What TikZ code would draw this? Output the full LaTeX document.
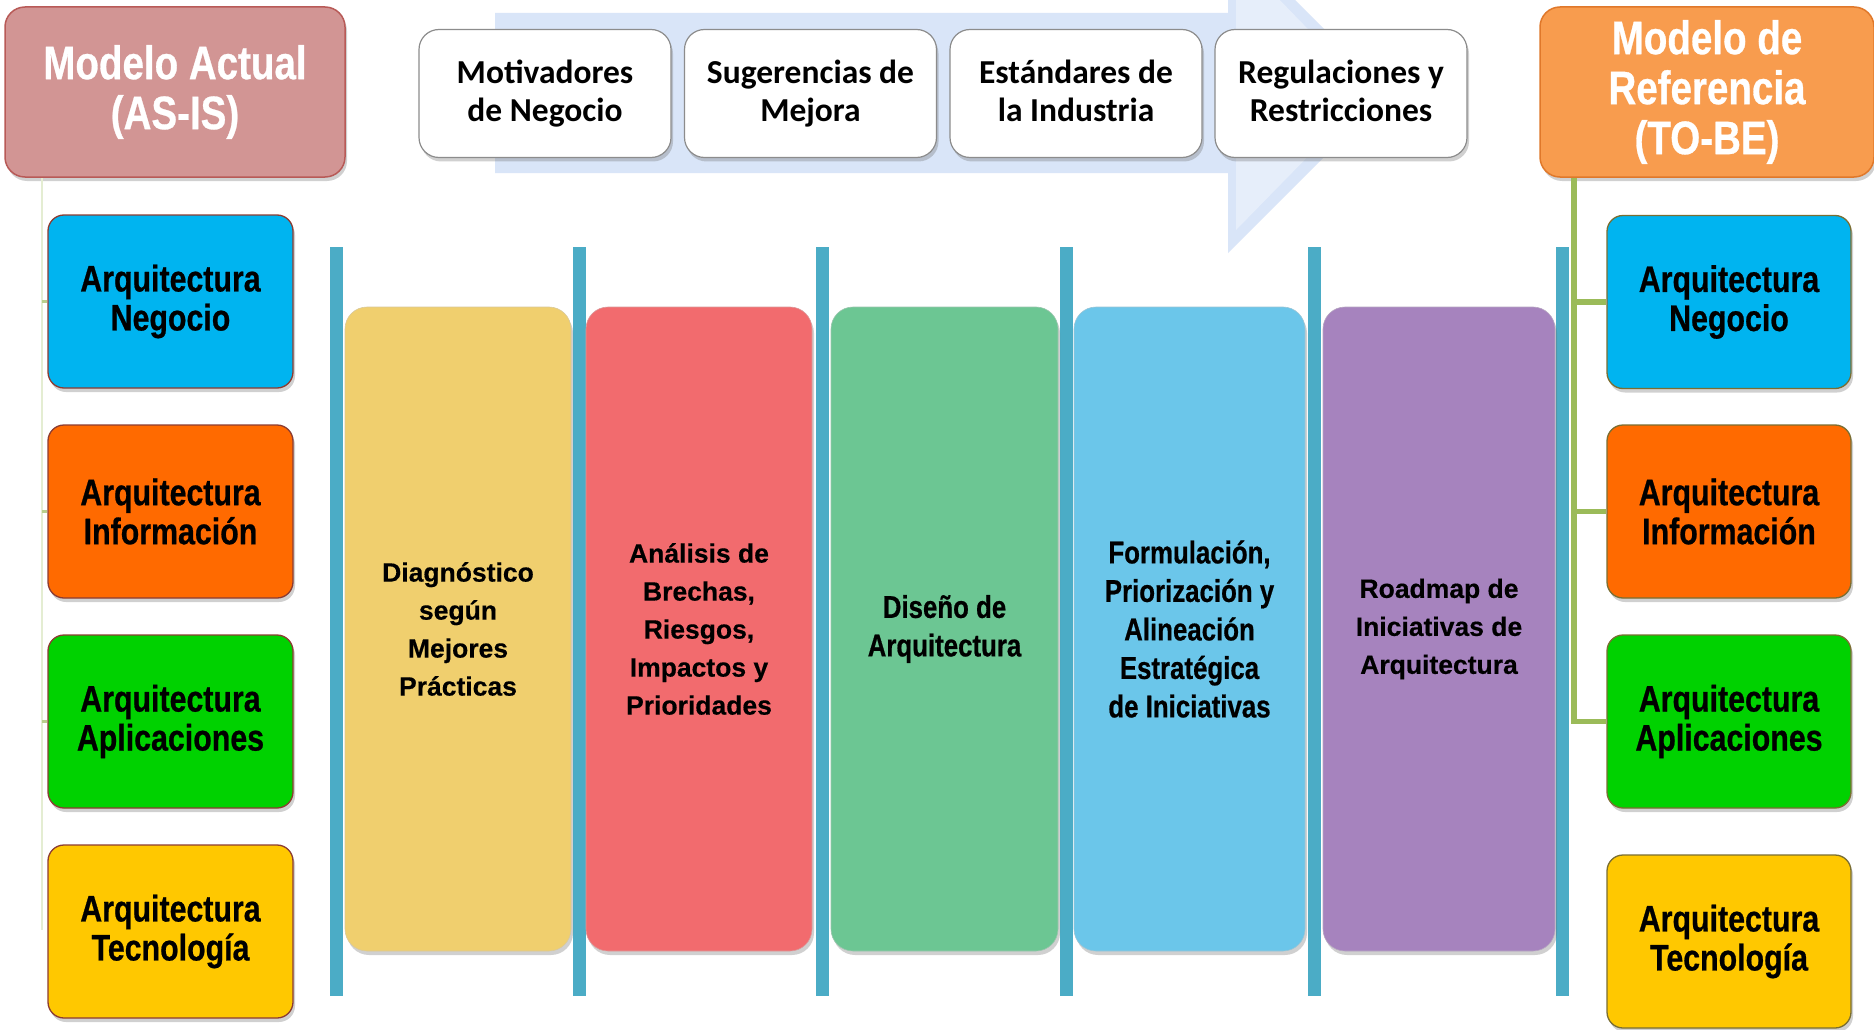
\documentclass[tikz,border=0pt]{standalone}
\usepackage{fontspec}
\setmainfont{Liberation Sans}
\newfontfamily\carlito{Carlito}
\newfontfamily\narrowf[FakeStretch=0.82,FakeBold=0.6]{Liberation Sans}
\newfontfamily\arialf[FakeBold=0.4]{Liberation Sans}
\usetikzlibrary{shadows}
\definecolor{barblue}{HTML}{4BACC6}
\definecolor{arrowblue}{HTML}{D9E5F8}
\definecolor{negocio}{HTML}{00B4F0}
\definecolor{informacion}{HTML}{FF6A00}
\definecolor{aplicaciones}{HTML}{00D200}
\definecolor{tecnologia}{HTML}{FFC800}
\definecolor{asis}{HTML}{D29594}
\definecolor{asisedge}{HTML}{B85A57}
\definecolor{tobe}{HTML}{F89C4E}
\definecolor{tobeedge}{HTML}{E0782A}
\definecolor{phyellow}{HTML}{F0CF6E}
\definecolor{phred}{HTML}{F26B6E}
\definecolor{phgreen}{HTML}{6CC693}
\definecolor{phblue}{HTML}{6BC6EA}
\definecolor{phpurple}{HTML}{A683BE}
\definecolor{leftedge}{HTML}{8C3C32}
\definecolor{rightedge}{HTML}{7A6E32}
\definecolor{treegreen}{HTML}{9BBB59}
\definecolor{paletree}{HTML}{E4EDD2}
\begin{document}
\begin{tikzpicture}[x=1pt,y=-1pt,
  softshadow/.style={drop shadow={shadow xshift=2pt,shadow yshift=-4pt,opacity=0.3,fill=black!60}},
  topbox/.style={draw=black!45,line width=1.2pt,fill=white,rounded corners=20pt,
    minimum width=252pt,minimum height=128pt,align=center,softshadow,
    execute at begin node={\vphantom{Á}},execute at end node={\vphantom{g}},
    font=\carlito\bfseries\fontsize{33.5}{38}\selectfont},
  bar/.style={fill=barblue,draw=none,minimum width=13pt,minimum height=749pt,inner sep=0pt},
  phase/.style={rounded corners=22pt,minimum height=644pt,inner sep=0pt,align=center,
    draw=#1!80!black!60,line width=0.6pt,fill=#1,softshadow},
  phwide/.style={font=\arialf\bfseries\fontsize{26.5}{38}\selectfont},
  phnarrow/.style={font=\narrowf\bfseries\fontsize{31.5}{38.5}\selectfont},
  archleft/.style={rounded corners=16pt,minimum width=245pt,minimum height=173pt,
    align=center,draw=leftedge,line width=1.3pt,fill=#1,softshadow,
    font=\narrowf\bfseries\fontsize{37}{39}\selectfont},
  archright/.style={rounded corners=16pt,minimum width=244pt,minimum height=173pt,
    align=center,draw=rightedge,line width=1.3pt,fill=#1,softshadow,
    font=\narrowf\bfseries\fontsize{37}{39}\selectfont},
  titlebox/.style={rounded corners=20pt,align=center,text=white,line width=1.5pt,softshadow,
    font=\narrowf\bfseries\fontsize{47}{50}\selectfont},
  lefttree/.style={draw=paletree,line width=1.5pt},
  leftstub/.style={draw=treegreen!70,line width=3pt},
  righttree/.style={draw=treegreen,line width=5.5pt}
]
\useasboundingbox (0,0) rectangle (1874,1030);
\fill[white] (0,0) rectangle (1874,1030);

% big background arrow
\begin{scope}
\clip (0,0) rectangle (1874,1030);
\fill[arrowblue] (495,13) -- (1228,13) -- (1228,-67) -- (1388,93) -- (1228,253)
  -- (1228,173) -- (495,173) -- cycle;
\fill[white,opacity=0.35] (1236,20) -- (1236,-45) -- (1370,93) -- (1236,230) -- (1236,166) -- cycle;
\end{scope}

% top boxes
\node[topbox] (t1) at (545,93.5) {Motivadores\\de Negocio};
\node[topbox] (t2) at (810.5,93.5) {Sugerencias de\\Mejora};
\node[topbox] (t3) at (1076,93.5) {Estándares de\\la Industria};
\node[topbox] (t4) at (1341,93.5) {Regulaciones y\\Restricciones};

% vertical separators
\node[bar] (b1) at (336.5,621.5) {};
\node[bar] (b2) at (579,621.5) {};
\node[bar] (b3) at (822,621.5) {};
\node[bar] (b4) at (1066.5,621.5) {};
\node[bar] (b5) at (1314,621.5) {};
\node[bar] (b6) at (1562.5,621.5) {};

% phases
\node[phase=phyellow,phwide,minimum width=226pt] (p1) at (458,629)
  {Diagnóstico\\según\\Mejores\\Prácticas};
\node[phase=phred,phwide,minimum width=226pt] (p2) at (699,629)
  {Análisis de\\Brechas,\\Riesgos,\\Impactos y\\Prioridades};
\node[phase=phgreen,phnarrow,minimum width=227pt] (p3) at (944.5,629)
  {Diseño de\\Arquitectura};
\node[phase=phblue,phnarrow,minimum width=231pt] (p4) at (1189.5,629)
  {Formulación,\\Priorización y\\Alineación\\Estratégica\\de Iniciativas};
\node[phase=phpurple,phwide,minimum width=232pt] (p5) at (1439,629)
  {Roadmap de\\Iniciativas de\\Arquitectura};

% title boxes
\node[titlebox,fill=asis,draw=asisedge,minimum width=340pt,minimum height=170pt] (asis) at (175,92)
  {Modelo Actual\\(AS-IS)};
\node[titlebox,fill=tobe,draw=tobeedge,minimum width=334pt,minimum height=170pt] (tobe) at (1707,92)
  {Modelo de\\Referencia\\(TO-BE)};

% left architecture boxes
\node[archleft=negocio] (lneg) at (170.5,301.5) {Arquitectura\\Negocio};
\node[archleft=informacion] (linf) at (170.5,511.5) {Arquitectura\\Información};
\node[archleft=aplicaciones] (lapl) at (170.5,721.5) {Arquitectura\\Aplicaciones};
\node[archleft=tecnologia] (ltec) at (170.5,931.5) {Arquitectura\\Tecnología};

% right architecture boxes
\node[archright=negocio] (rneg) at (1729,302) {Arquitectura\\Negocio};
\node[archright=informacion] (rinf) at (1729,511.5) {Arquitectura\\Información};
\node[archright=aplicaciones] (rapl) at (1729,721.5) {Arquitectura\\Aplicaciones};
\node[archright=tecnologia] (rtec) at (1729,941.5) {Arquitectura\\Tecnología};

% left tree
\coordinate (lroot) at (42,178);
\coordinate (lend) at (42,930);
\draw[lefttree] (lroot) -- (lend);
\draw[leftstub] (lroot |- lneg.west) -- (lneg.west);
\draw[leftstub] (lroot |- linf.west) -- (linf.west);
\draw[leftstub] (lroot |- lapl.west) -- (lapl.west);

% right tree
\coordinate (rroot) at (1574,178);
\draw[righttree] (rroot) |- (rneg.west);
\draw[righttree] (rroot) |- (rinf.west);
\draw[righttree] (rroot) |- (rapl.west);
\end{tikzpicture}
\end{document}
